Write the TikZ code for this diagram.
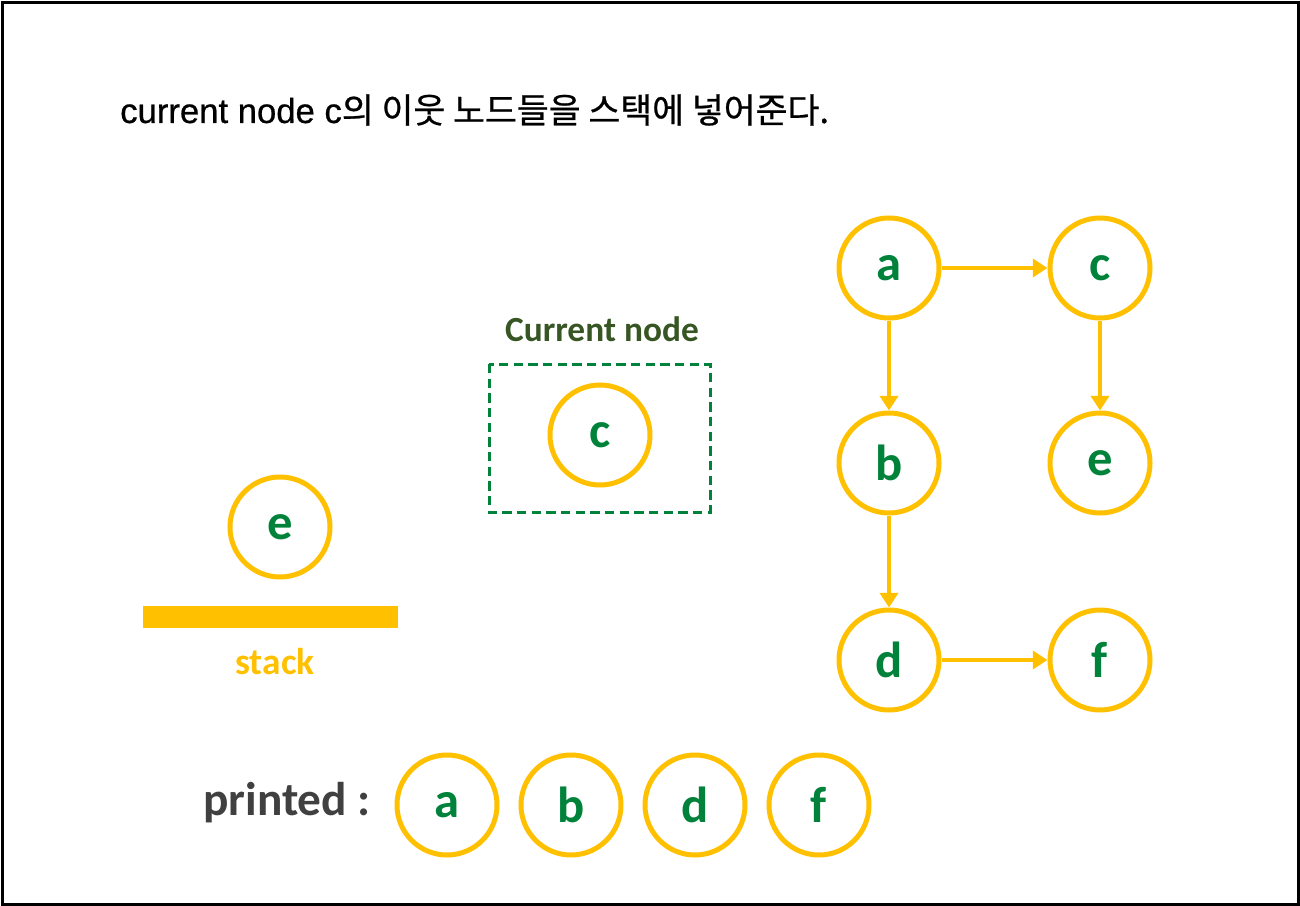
\documentclass[tikz,border=0pt]{standalone}
\usepackage{fontspec}
\setmainfont{Carlito}
\newfontfamily\krfont[FakeBold=0.7]{Noto Sans CJK KR}
\newfontfamily\lsfont[FakeBold=0.7]{Liberation Sans}
\usetikzlibrary{arrows.meta, positioning}
\definecolor{nodeyellow}{HTML}{FFC000}
\definecolor{lettergreen}{HTML}{00823B}
\definecolor{labelgreen}{HTML}{375623}
\definecolor{printgray}{HTML}{404040}

\begin{document}
\begin{tikzpicture}[x=0.75pt, y=-0.75pt]
\tikzstyle{every node}+=[inner sep=0pt]
\tikzstyle{vertex}=[circle, draw=nodeyellow, line width=3.75pt, minimum size=75pt,
  text=lettergreen, text depth=0pt, font=\fontsize{38}{42}\selectfont\bfseries]
\tikzstyle{edge}=[draw=nodeyellow, line width=3pt, -{Triangle[width=13.5pt,length=11pt]}]
\useasboundingbox (0,0) rectangle (1300,906);
\draw [black, line width=2.25pt] (2,3) rectangle (1298,904);
% title
\node [anchor=west] (title) at (120,110) {\fontsize{26}{30}\selectfont\lsfont current node c\krfont 의 이웃 노드들을 스택에 넣어준다.};
% graph
\node [vertex] (a) at (889,268) {a};
\node [vertex] (c) at (1100,268) {c};
\node [vertex] (b) at (889,463) {b};
\node [vertex] (e) at (1100,463) {e};
\node [vertex] (d) at (889,660) {d};
\node [vertex] (f) at (1100,660) {f};
\draw [edge] (a) -- (c);
\draw [edge] (a) -- (b);
\draw [edge] (c) -- (e);
\draw [edge] (b) -- (d);
\draw [edge] (d) -- (f);
% current node
\node [text=labelgreen, font=\fontsize{26.5}{30}\selectfont\bfseries] (curlabel) at (602,329) {Current node};
\draw [lettergreen, line width=2.25pt, dash pattern=on 7pt off 4pt] (489,364) rectangle (710,512);
\node [vertex] (cur) at (600,435) {c};
% stack
\node [vertex] (top) at (280,527) {e};
\fill [nodeyellow] (143,606) rectangle (398,628);
\node [text=nodeyellow, font=\fontsize{28}{32}\selectfont\bfseries] (stacklabel) at (275,662) {stack};
% printed
\node [text=printgray, font=\fontsize{35.5}{40}\selectfont\bfseries] (printed) at (287,803) {printed :};
\node [vertex] (p1) at (447,805) {a};
\node [vertex, right=14.25pt of p1] (p2) {b};
\node [vertex, right=14.25pt of p2] (p3) {d};
\node [vertex, right=14.25pt of p3] (p4) {f};
\end{tikzpicture}
\end{document}
